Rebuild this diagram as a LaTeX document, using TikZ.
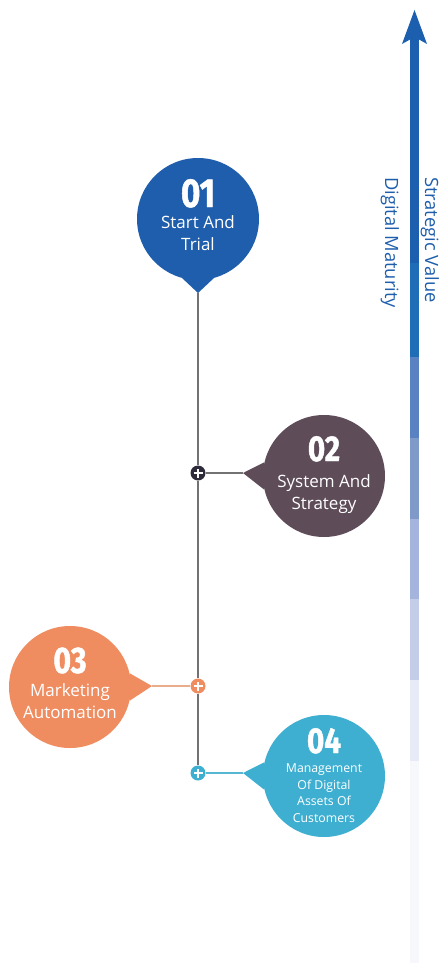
\documentclass[tikz,border=0pt]{standalone}
\usepackage{fontspec}
\setmainfont{Open Sans}
\newfontfamily\numfont[FakeStretch=0.82,FakeBold=1.2]{Fira Sans}
\usetikzlibrary{calc}
\definecolor{cblue}{HTML}{1E5EAC}
\definecolor{cmauve}{HTML}{5E4C59}
\definecolor{corange}{HTML}{EF8D61}
\definecolor{ccyan}{HTML}{3EAFD1}
\definecolor{cline}{HTML}{727272}
\definecolor{coline}{HTML}{E9AD8C}
\definecolor{ccline}{HTML}{58B6D5}
\definecolor{cplusdark}{HTML}{2E2B3A}
\definecolor{bA}{HTML}{1D5FAF}
\definecolor{bB}{HTML}{1F6DB7}
\definecolor{bC}{HTML}{5A82C2}
\definecolor{bD}{HTML}{7F99C9}
\definecolor{bE}{HTML}{A4B4DC}
\definecolor{bF}{HTML}{C4CDE7}
\definecolor{bG}{HTML}{E6EBF7}
\definecolor{bH}{HTML}{F7F8FC}
\begin{document}
\begin{tikzpicture}[x=1pt,y=-1pt,
  bubble/.style={circle, minimum size=122pt, inner sep=0pt, draw=none, fill=#1},
  numtxt/.style={text=white, anchor=base, inner sep=0pt, font=\numfont\bfseries\fontsize{#1}{#1}\selectfont},
  lbl/.style={text=white, anchor=base, inner sep=0pt, font=\fontsize{17}{20}\selectfont},
  lblsmall/.style={text=white, anchor=base, inner sep=0pt, font=\fontsize{12.3}{15}\selectfont},
  axislbl/.style={text=cblue, anchor=base west, inner sep=0pt, rotate=-90, font=\fontsize{18.3}{20}\selectfont},
  plusicon/.style={circle, fill=#1, minimum size=15pt, inner sep=0pt,
    path picture={\draw[white,line width=2.5pt]
      ([xshift=-4.5pt]path picture bounding box.center) -- ([xshift=4.5pt]path picture bounding box.center)
      ([yshift=-4.5pt]path picture bounding box.center) -- ([yshift=4.5pt]path picture bounding box.center);}},
  vline/.style={cline, line width=1.5pt},
  hline/.style={line width=1.3pt}
]
\useasboundingbox (0,0) rectangle (444,963);

% ---- axis bar ----
\fill[bA] (410,37) rectangle (419,263.5);
\fill[bB] (410,263) rectangle (419,357.5);
\fill[bC] (410,357) rectangle (419,438.5);
\fill[bD] (410,438) rectangle (419,519.5);
\fill[bE] (410,519) rectangle (419,599.5);
\fill[bF] (410,599) rectangle (419,680.5);
\fill[bG] (410,680) rectangle (419,761.5);
\fill[bH] (410,761) rectangle (419,963);
\fill[bA] (414.5,10) -- (427,44) -- (414.5,37) -- (402,44) -- cycle;
\node[axislbl] (sv) at (425,177) {Strategic Value};
\node[axislbl] (dm) at (385,177) {Digital Maturity};

% ---- circles ----
\node[bubble=cblue]   (c1) at (198,219) {};
\node[bubble=cmauve]  (c2) at (324,476) {};
\node[bubble=corange] (c3) at (70,687) {};
\node[bubble=ccyan]   (c4) at (324,776) {};

% pointer tips
\coordinate (t1) at (198,293);
\coordinate (t2) at (243,473);
\coordinate (t3) at (152,686);
\coordinate (t4) at (243,773);
\fill[cblue]   (c1.255) -- (t1) -- (c1.285) -- cycle;
\fill[cmauve]  (c2.167) -- (t2) -- (c2.193) -- cycle;
\fill[corange] (c3.13) -- (t3) -- (c3.-13) -- cycle;
\fill[ccyan]   (c4.167) -- (t4) -- (c4.193) -- cycle;

% plus icons
\node[plusicon=cplusdark] (p2) at (198,473) {};
\node[plusicon=corange]   (p3) at (198,686) {};
\node[plusicon=ccyan]     (p4) at (198,773) {};

% connectors
\draw[vline] (t1) -- (p2);
\draw[vline] (p2) -- (p3);
\draw[vline] (p3) -- (p4);
\draw[hline, cline]  (p2) -- (t2);
\draw[hline, coline] (p3) -- (t3);
\draw[hline, ccline] (p4) -- (t4);

% ---- texts ----
\node[numtxt=40.5] (n1) at (198,207) {01};
\node[lbl] (l1a) at (198,228) {Start And};
\node[lbl] (l1b) at (198,250) {Trial};

\node[numtxt=36] (n2) at (324,461) {02};
\node[lbl] (l2a) at (324,487) {System And};
\node[lbl] (l2b) at (324,509) {Strategy};

\node[numtxt=37] (n3) at (70,673) {03};
\node[lbl] (l3a) at (70,696) {Marketing};
\node[lbl] (l3b) at (70,718) {Automation};

\node[numtxt=36] (n4) at (324,753) {04};
\node[lblsmall] (l4a) at (324,772) {Management};
\node[lblsmall] (l4b) at (324,789) {Of Digital};
\node[lblsmall] (l4c) at (324,805) {Assets Of};
\node[lblsmall] (l4d) at (324,822) {Customers};
\end{tikzpicture}
\end{document}
